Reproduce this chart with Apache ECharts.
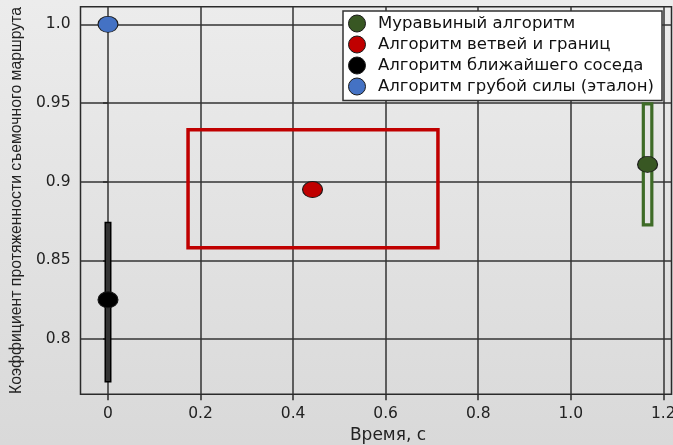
<!DOCTYPE html>
<html>
<head>
<meta charset="utf-8">
<script src="https://cdn.jsdelivr.net/npm/echarts@6/dist/echarts.min.js"></script>
<style>
html,body{margin:0;padding:0;}
#chart{width:673px;height:445px;}
</style>
</head>
<body>
<div id="chart"></div>
<script>
// ---- data ----
const seriesNames = ['Муравьиный алгоритм', 'Алгоритм ветвей и границ', 'Алгоритм ближайшего соседа', 'Алгоритм грубой силы (эталон)'];
const seriesColors = ['#385723', '#c00000', '#000000', '#4472c4'];
const timeSec = [1.166, 0.442, 0.0, 0.0];
const coefValue = [0.911, 0.895, 0.825, 1.0];
// vertical spread ranges (x, low, high) for ant and nearest neighbour
const antRange = [1.166, 0.8725, 0.9494];
const nnRange = [0.0, 0.7729, 0.874];
// branch & bound box: x from, x to, y from, y to
const bbBox = [0.173, 0.713, 0.858, 0.933];
const xTicks = [0, 0.2, 0.4, 0.6, 0.8, 1.0, 1.2];
const xTickLabels = ['0', '0.2', '0.4', '0.6', '0.8', '1.0', '1.2'];
const yTicks = [0.8, 0.85, 0.9, 0.95, 1.0];
const yTickLabels = ['0.8', '0.85', '0.9', '0.95', '1.0'];
const xName = 'Время, с';
const yName = 'Коэффициент протяженности съемочного маршрута';

const ellipse = 'path://M0,10 A10,10 0 1,0 20,10 A10,10 0 1,0 0,10 Z';

function labelFor(ticks, labels) {
  return function (v) {
    for (let i = 0; i < ticks.length; i++) {
      if (Math.abs(v - ticks[i]) < 1e-6) return labels[i];
    }
    return '';
  };
}

const chart = echarts.init(document.getElementById('chart'), null, {renderer: 'canvas'});

const series = [];
// branch & bound box
series.push({
  type: 'custom', name: 'bbBox', z: 2,
  data: [bbBox],
  renderItem: function (params, api) {
    const a = api.coord([api.value(0), api.value(3)]);
    const b = api.coord([api.value(1), api.value(2)]);
    return {type: 'rect', shape: {x: a[0], y: a[1], width: b[0] - a[0], height: b[1] - a[1]},
      style: {fill: 'none', stroke: '#c00000', lineWidth: 3.5}};
  }
});
// ant range bar
series.push({
  type: 'custom', name: 'antRange', z: 2,
  data: [antRange],
  renderItem: function (params, api) {
    const a = api.coord([api.value(0), api.value(2)]);
    const b = api.coord([api.value(0), api.value(1)]);
    const w = 8.5;
    return {type: 'rect', shape: {x: a[0] - w / 2, y: a[1], width: w, height: b[1] - a[1]},
      style: {fill: '#e4e4e4', stroke: '#3e6b27', lineWidth: 3.2}};
  }
});
// nearest-neighbour range bar
series.push({
  type: 'custom', name: 'nnRange', z: 2,
  data: [nnRange],
  renderItem: function (params, api) {
    const a = api.coord([api.value(0), api.value(2)]);
    const b = api.coord([api.value(0), api.value(1)]);
    const w = 5.5;
    return {type: 'rect', shape: {x: a[0] - w / 2, y: a[1], width: w, height: b[1] - a[1]},
      style: {fill: '#333333', stroke: '#000', lineWidth: 1.5}};
  }
});
for (let i = 0; i < seriesNames.length; i++) {
  series.push({
    type: 'scatter', name: seriesNames[i], z: 5,
    symbol: ellipse, symbolSize: [20, 16],
    itemStyle: {color: seriesColors[i], borderColor: '#1a1a1a', borderWidth: 1, opacity: 1},
    data: [[timeSec[i], coefValue[i]]]
  });
}

chart.setOption({
  animation: false,
  backgroundColor: new echarts.graphic.LinearGradient(0, 0, 0, 1, [
    {offset: 0, color: '#ececec'}, {offset: 1, color: '#d9d9d9'}
  ]),
  textStyle: {fontFamily: 'DejaVu Sans'},
  grid: {left: 80.5, right: 1.5, top: 6.7, bottom: 50.7, show: true, borderColor: '#2a2a2a', borderWidth: 1.5,
    backgroundColor: 'transparent', containLabel: false, outerBoundsMode: 'none'},
  legend: {
    data: seriesNames,
    orient: 'vertical', left: 343, top: 11,
    backgroundColor: '#ffffff', borderColor: '#333', borderWidth: 1.5,
    padding: [3.5, 4, 5, 5],
    icon: ellipse, itemWidth: 22, itemHeight: 17, itemGap: 3,
    itemStyle: {borderColor: '#1a1a1a', borderWidth: 1},
    textStyle: {fontFamily: 'DejaVu Sans', fontSize: 16.5, color: '#111', lineHeight: 17, padding: [0, 0, 0, 5], width: 280},
    selectedMode: false
  },
  xAxis: {
    type: 'value', min: -0.0594, max: 1.2177,
    name: xName, nameLocation: 'middle', nameGap: 32,
    nameTextStyle: {fontFamily: 'DejaVu Sans', fontSize: 17, color: '#222', padding: [0, 0, 0, 24]},
    axisLine: {show: false},
    axisTick: {show: true, inside: false, length: 6, customValues: xTicks, lineStyle: {color: '#2a2a2a', width: 1.5}},
    axisLabel: {customValues: xTicks, formatter: labelFor(xTicks, xTickLabels), margin: 12, fontSize: 15.5, color: '#222', fontFamily: 'DejaVu Sans'},
    splitLine: {show: true, lineStyle: {color: '#333', width: 1.5}}
  },
  yAxis: {
    type: 'value', min: 0.7649, max: 1.0112,
    name: yName, nameLocation: 'middle', nameGap: 55, nameRotate: 90,
    nameTextStyle: {fontFamily: 'Liberation Sans', fontSize: 15.8, color: '#222'},
    axisLine: {show: false},
    axisTick: {show: true, inside: false, length: 5, customValues: yTicks, lineStyle: {color: '#2a2a2a', width: 1.5}},
    axisLabel: {customValues: yTicks, formatter: labelFor(yTicks, yTickLabels), margin: 10, fontSize: 15.5, color: '#222', fontFamily: 'DejaVu Sans'},
    splitLine: {show: true, lineStyle: {color: '#333', width: 1.5}}
  },
  series: series
});
</script>
</body>
</html>
